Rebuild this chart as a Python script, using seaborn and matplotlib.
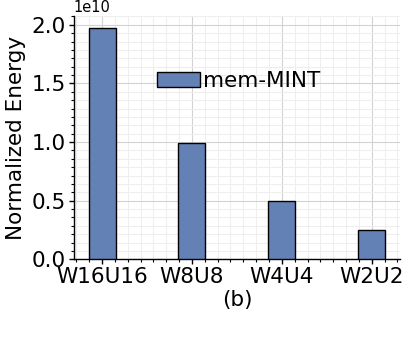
import matplotlib
matplotlib.use("Agg")
import matplotlib.pyplot as plt
import seaborn as sns
import pandas as pd
from matplotlib.ticker import AutoMinorLocator

# energy per configuration
configs = ["W16U16", "W8U8", "W4U4", "W2U2"]
energy = [1.975e10, 0.99e10, 0.495e10, 0.25e10]
series_name = "mem-MINT"

df = pd.DataFrame({"Config": configs, "Energy": energy})

sns.set_style("white")
plt.rcParams["font.family"] = ["DejaVu Sans"]
plt.rcParams.update({"text.color": "black", "axes.labelcolor": "black",
                     "xtick.color": "black", "ytick.color": "black"})

fig = plt.figure(figsize=(4.15, 3.39), dpi=100)
ax = fig.add_axes([0.1776, 0.235, 0.7864, 0.7175])

sns.barplot(data=df, x="Config", y="Energy", color="#6481b6", saturation=1,
            edgecolor="black", linewidth=1, width=0.3, label=series_name,
            zorder=3, ax=ax)

ax.set_xlim(-0.315, 3.315)
ax.set_ylim(0, 2.074e10)

ax.xaxis.set_minor_locator(AutoMinorLocator(7))
ax.yaxis.set_minor_locator(AutoMinorLocator(7))
ax.grid(which="major", color="#d2d2d2", linewidth=0.8, zorder=0)
ax.grid(which="minor", color="#eeeeee", linewidth=0.8, zorder=0)
ax.set_axisbelow(True)

ax.tick_params(which="major", direction="out", length=3.5, width=1, labelsize=15.5,
               bottom=True, left=True, pad=2)
ax.tick_params(which="minor", direction="out", length=2, width=0.8,
               bottom=True, left=True)
ax.yaxis.get_offset_text().set_fontsize(10.5)

sns.despine(ax=ax)
for s in ["left", "bottom"]:
    ax.spines[s].set_color("black")
    ax.spines[s].set_linewidth(1)

ax.set_ylabel("Normalized Energy", fontsize=15.5, labelpad=4)
ax.set_xlabel("(b)", fontsize=15.5, labelpad=2)

ax.legend(loc="center left", bbox_to_anchor=(0.221, 0.734), frameon=False,
          fontsize=15.5, borderpad=0, handletextpad=0.15, handlelength=2.0)

fig.savefig("out.png", dpi=100)
